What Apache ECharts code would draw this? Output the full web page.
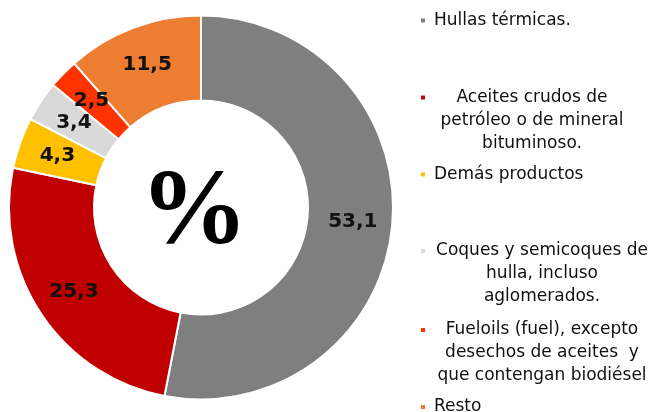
<!DOCTYPE html>
<html>
<head>
<meta charset="utf-8">
<script src="https://cdn.jsdelivr.net/npm/echarts@6/dist/echarts.min.js"></script>
<style>
  html, body { margin: 0; padding: 0; background: #fff; }
  #chart { width: 653px; height: 412px; }
</style>
</head>
<body>
<div id="chart"></div>
<script>
// datos del gráfico (line breaks = how the legend wraps)
var productos = [
  'Hullas térmicas.',
  'Aceites crudos de\npetróleo o de mineral\nbituminoso.',
  'Demás productos',
  'Coques y semicoques de\nhulla, incluso\naglomerados.',
  'Fueloils (fuel), excepto\ndesechos de aceites  y\nque contengan biodiésel',
  'Resto'
]
var participacion = [53.1, 25.3, 4.3, 3.4, 2.5, 11.5]
var colores = ['#7F7F7F', '#C00000', '#FFC000', '#D9D9D9', '#FF3300', '#ED7D31']

// legend placement, one legend per entry (Excel-style spacing)
var legendTop = [12, 89, 166, 242.5, 321.5, 398.5]
var legendBox = [0, 196, 0, 216, 216, 0]
var LINE_H = 23

var chart = echarts.init(document.getElementById('chart'), null, { renderer: 'canvas' })

var legends = productos.map(function (name, i) {
  var nLines = name.split('\n').length
  return {
    orient: 'vertical',
    left: 419,
    top: legendTop[i],
    padding: 0,
    data: [name],
    icon: 'rect',
    itemWidth: 6,
    itemHeight: 6,
    formatter: function (n) {
      return n.split('\n').map(function (s) { return '{c|' + s + '}' }).join('\n')
    },
    textStyle: {
      padding: [(nLines - 1) * LINE_H, 0, 0, 3],
      rich: {
        c: {
          width: legendBox[i] || null,
          align: legendBox[i] ? 'center' : 'left',
          fontFamily: 'DejaVu Sans',
          fontSize: 17,
          lineHeight: LINE_H,
          color: '#111'
        }
      }
    }
  }
})

chart.setOption({
  animation: false,
  color: colores,
  legend: legends,
  graphic: [{
    type: 'text',
    x: 194,
    y: 215,
    style: {
      text: '%',
      font: 'bold 108px "Liberation Serif"',
      fill: '#000',
      align: 'center',
      verticalAlign: 'middle'
    }
  }],
  series: [{
    type: 'pie',
    center: [201, 207.5],
    radius: [107, 192],
    startAngle: 90,
    clockwise: true,
    avoidLabelOverlap: false,
    itemStyle: {
      borderColor: '#fff',
      borderWidth: 2
    },
    label: {
      position: 'inside',
      formatter: function (p) {
        return String(p.value).replace('.', ',')
      },
      fontFamily: 'DejaVu Sans',
      fontWeight: 'bold',
      fontSize: 20,
      color: '#111'
    },
    labelLine: { show: false },
    emphasis: { disabled: true },
    data: productos.map(function (n, i) {
      return { name: n, value: participacion[i] }
    })
  }]
})
</script>
</body>
</html>
